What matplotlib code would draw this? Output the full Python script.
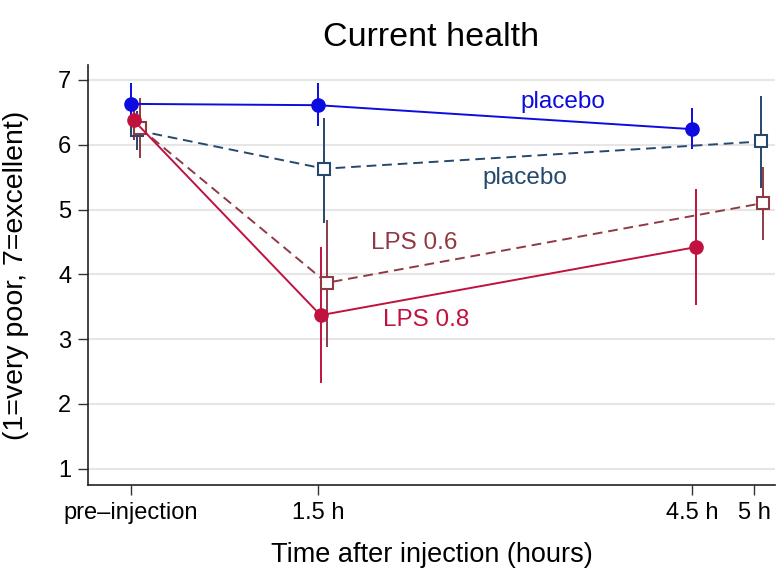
import matplotlib
matplotlib.use("Agg")
import matplotlib.pyplot as plt

plt.rcParams['font.family'] = ['Liberation Sans', 'DejaVu Sans']

# Data
tick_pos = [0, 1.5, 4.5, 5]
tick_labels = ['pre–injection', '1.5 h', '4.5 h', '5 h']

plc08_x = [0.0, 1.5, 4.5]
plc08_y = [6.63, 6.61, 6.24]
plc08_lo = [6.31, 6.29, 5.94]
plc08_hi = [6.95, 6.95, 6.57]

lps08_x = [0.02, 1.52, 4.53]
lps08_y = [6.38, 3.37, 4.42]
lps08_lo = [6.08, 2.32, 3.53]
lps08_hi = [6.68, 4.42, 5.32]

plc06_x = [0.05, 1.55, 5.05]
plc06_y = [6.22, 5.63, 6.05]
plc06_lo = [5.92, 4.80, 5.33]
plc06_hi = [6.52, 6.41, 6.75]

lps06_x = [0.07, 1.57, 5.07]
lps06_y = [6.26, 3.87, 5.10]
lps06_lo = [5.80, 2.88, 4.53]
lps06_hi = [6.72, 4.84, 5.66]

c_blue = '#0c0ce0'
c_navy = '#24496b'
c_crimson = '#c1123f'
c_brown = '#8e3a45'

W, H = 779, 572
fig = plt.figure(figsize=(W / 100, H / 100), dpi=100)
L, R, T, B = 88, 775, 65, 485
ax = fig.add_axes([L / W, 1 - B / H, (R - L) / W, (B - T) / H])

for y in range(1, 8):
    ax.axhline(y, color='#e6e6e6', lw=1.5, zorder=0)

lw = 1.4
ax.vlines(plc06_x, plc06_lo, plc06_hi, color=c_navy, lw=lw, zorder=2)
ax.plot(plc06_x, plc06_y, color=c_navy, ls=(0, (5, 3)), lw=lw, marker='s', ms=8.5,
        mfc='white', mec=c_navy, mew=1.5, zorder=3)
ax.vlines(lps06_x, lps06_lo, lps06_hi, color=c_brown, lw=lw, zorder=2)
ax.plot(lps06_x, lps06_y, color=c_brown, ls=(0, (5, 3)), lw=lw, marker='s', ms=8.5,
        mfc='white', mec=c_brown, mew=1.5, zorder=3)
ax.vlines(lps08_x, lps08_lo, lps08_hi, color=c_crimson, lw=lw, zorder=2)
ax.plot(lps08_x, lps08_y, color=c_crimson, lw=lw, marker='o', ms=9.5,
        mfc=c_crimson, mec=c_crimson, zorder=3)
ax.vlines(plc08_x, plc08_lo, plc08_hi, color=c_blue, lw=lw, zorder=2)
ax.plot(plc08_x, plc08_y, color=c_blue, lw=lw, marker='o', ms=9.5,
        mfc=c_blue, mec=c_blue, zorder=3)

fs = 17.5
ax.text(3.46, 6.66, 'placebo', color=c_blue, fontsize=fs, ha='center', va='center')
ax.text(3.16, 5.48, 'placebo', color=c_navy, fontsize=fs, ha='center', va='center')
ax.text(2.27, 4.49, 'LPS 0.6', color=c_brown, fontsize=fs, ha='center', va='center')
ax.text(2.37, 3.29, 'LPS 0.8', color=c_crimson, fontsize=fs, ha='center', va='center')

ax.set_xlim(-0.345, 5.165)
ax.set_ylim(0.75, 7.23)
ax.set_xticks(tick_pos)
ax.set_xticklabels(tick_labels, fontsize=17)
ax.set_yticks(range(1, 8))
ax.set_yticklabels([str(i) for i in range(1, 8)], fontsize=17)
ax.tick_params(axis='both', length=7, width=1, color='#333333')
ax.tick_params(axis='x', pad=5)
ax.tick_params(axis='y', pad=5)
for s in ['top', 'right']:
    ax.spines[s].set_visible(False)
for s in ['left', 'bottom']:
    ax.spines[s].set_color('#222222')
    ax.spines[s].set_linewidth(1.2)

ax.set_xlabel('Time after injection (hours)', fontsize=19.5, va='center')
ax.xaxis.set_label_coords(0.5, -(555 - B) / (B - T))
ax.set_ylabel('(1=very poor, 7=excellent)', fontsize=20.5, va='center')
ax.yaxis.set_label_coords(-(L - 16) / (R - L), 0.5)

fig.text(431 / W, 1 - 38 / H, 'Current health', fontsize=24.5, ha='center', va='center')

fig.savefig('out.png', dpi=100)
